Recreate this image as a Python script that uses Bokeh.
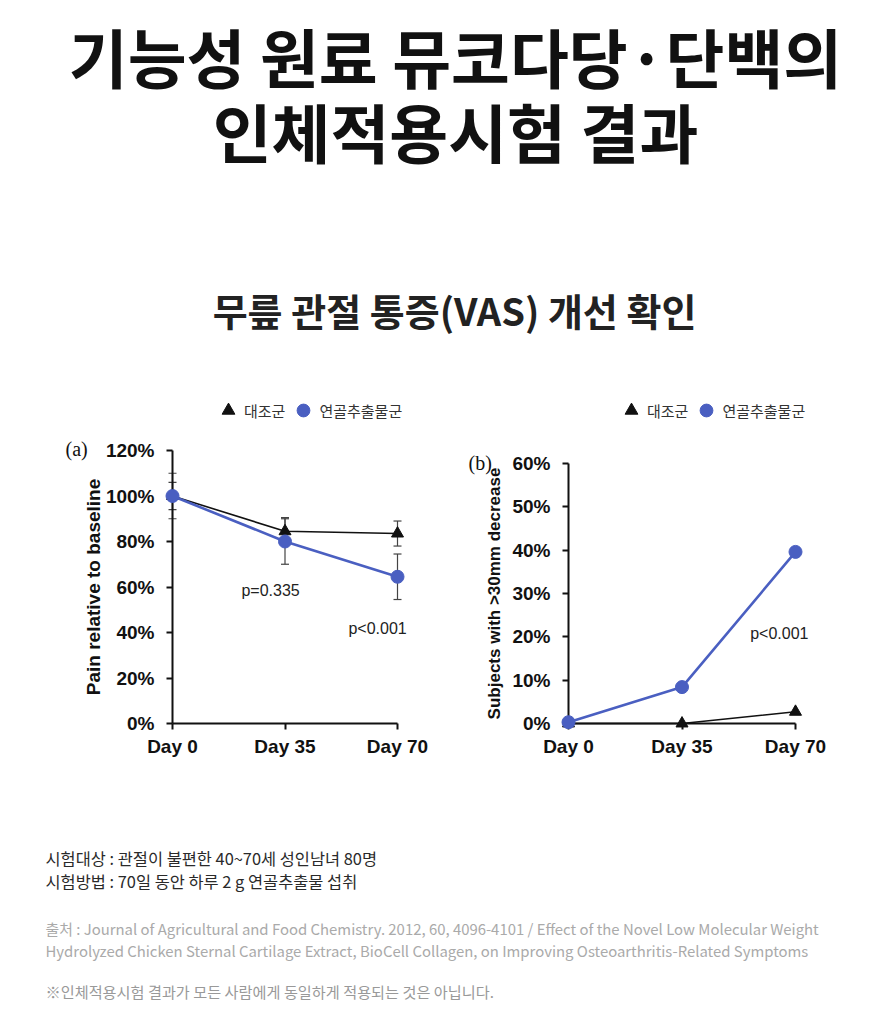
from bokeh.plotting import figure
from bokeh.models import (Range1d, FixedTicker, PrintfTickFormatter, Label, Legend,
                          LegendItem, ColumnDataSource, Whisker, TeeHead)
from bokeh.layouts import column, row
from bokeh.embed import file_html
from bokeh.resources import INLINE
from bokeh.core.properties import value

# ---------------- data ----------------
days = [0, 35, 70]
day_labels = ["Day 0", "Day 35", "Day 70"]
series_names = ["대조군", "연골추출물군"]

pain_control = [100, 84.5, 83.5]
pain_control_err = [10, 6, 5.5]
pain_extract = [100, 80, 64.5]
pain_extract_err = [6, 10, 10]
pain_ticks = [0, 20, 40, 60, 80, 100, 120]

resp_control = [0, 0, 2.7]
resp_extract = [0.3, 8.4, 39.6]
resp_ticks = [0, 10, 20, 30, 40, 50, 60]

title_lines = ["기능성 원료 뮤코다당·단백의", "인체적용시험 결과"]
subtitle = "무릎 관절 통증(VAS) 개선 확인"
notes = ["시험대상 : 관절이 불편한 40~70세 성인남녀 80명",
         "시험방법 : 70일 동안 하루 2 g 연골추출물 섭취"]
sources = ["출처 : Journal of Agricultural and Food Chemistry. 2012, 60, 4096-4101 / Effect of the Novel Low Molecular Weight",
           "Hydrolyzed Chicken Sternal Cartilage Extract, BioCell Collagen, on Improving Osteoarthritis-Related Symptoms"]
disclaimer = "※인체적용시험 결과가 모든 사람에게 동일하게 적용되는 것은 아닙니다."

BLUE = "#4A5FC1"
BLACK = "#111111"
KR = "Noto Sans CJK KR"
AR = "Liberation Sans"
CH_H = 410  # height of the chart row


def text_fig(w, h):
    p = figure(width=w, height=h, x_range=Range1d(0, w), y_range=Range1d(h, 0),
               output_backend="svg", toolbar_location=None,
               x_axis_location=None, y_axis_location=None,
               min_border=0, outline_line_color=None)
    p.grid.visible = False
    return p


# ---------------- header ----------------
head = text_fig(887, 380)
for txt, yy in zip(title_lines, [54, 129]):
    head.add_layout(Label(x=455, y=yy, text=txt, text_align="center", text_baseline="middle",
                          text_font=KR, text_font_style="bold", text_font_size="64px",
                          text_color=BLACK))
head.add_layout(Label(x=454, y=309, text=subtitle, text_align="center", text_baseline="middle",
                      text_font=KR, text_font_style="bold", text_font_size="38px",
                      text_color="#222222"))


# ---------------- charts ----------------
def chart(width, ax_l, ax_r, ax_top, ax_bot, ymax, yticks, ylabel, ctrl, ext,
          ctrl_err=None, ext_err=None, ylabel_standoff=0, ylabel_size="19px"):
    # ax_l/ax_r: pixel x of Day 0 / Day 70; ax_top/ax_bot: pixel y (from top) of ymax / 0
    ppx = (ax_r - ax_l) / 70.0
    ppy = (ax_bot - ax_top) / float(ymax)
    xr = Range1d(-ax_l / ppx, (width - ax_l) / ppx)
    yr = Range1d(-(CH_H - ax_bot) / ppy, ax_bot / ppy)
    p = figure(width=width, height=CH_H, x_range=xr, y_range=yr,
               output_backend="svg", toolbar_location=None,
               min_border=0, outline_line_color=None)
    p.grid.visible = False
    p.xaxis.fixed_location = 0
    p.yaxis.fixed_location = 0
    p.xaxis.bounds = (0, 70)
    p.yaxis.bounds = (0, ymax)
    p.xaxis.ticker = FixedTicker(ticks=days)
    p.xaxis.major_label_overrides = {d: l for d, l in zip(days, day_labels)}
    p.yaxis.ticker = FixedTicker(ticks=yticks)
    p.yaxis.formatter = PrintfTickFormatter(format="%d%%")
    for ax in (p.xaxis[0], p.yaxis[0]):
        ax.axis_line_width = 2
        ax.axis_line_color = BLACK
        ax.major_tick_line_width = 2
        ax.major_tick_line_color = BLACK
        ax.major_tick_out = 6
        ax.major_tick_in = 0
        ax.minor_tick_line_color = None
        ax.major_label_text_font = AR
        ax.major_label_text_font_style = "bold"
        ax.major_label_text_font_size = "19px"
        ax.major_label_text_color = BLACK
    p.xaxis.major_label_standoff = 6
    p.yaxis.major_label_standoff = 12
    p.yaxis.axis_label = ylabel
    p.yaxis.axis_label_text_font = AR
    p.yaxis.axis_label_text_font_style = "bold"
    p.yaxis.axis_label_text_font_size = ylabel_size
    p.yaxis.axis_label_text_color = BLACK
    p.yaxis.axis_label_standoff = ylabel_standoff

    if ctrl_err is not None:
        for vals, errs in ((ctrl, ctrl_err), (ext, ext_err)):
            src = ColumnDataSource(dict(x=days,
                                        upper=[v + e for v, e in zip(vals, errs)],
                                        lower=[v - e for v, e in zip(vals, errs)]))
            p.add_layout(Whisker(base="x", upper="upper", lower="lower", source=src,
                                 line_color="#444444", line_width=1.2,
                                 upper_head=TeeHead(size=8, line_color="#444444", line_width=1.2),
                                 lower_head=TeeHead(size=8, line_color="#444444", line_width=1.2)))

    p.line(days, ctrl, line_color=BLACK, line_width=1.6, level="overlay")
    r_ctrl = p.scatter(days, ctrl, marker="triangle", size=12, color=BLACK, level="overlay")
    p.line(days, ext, line_color=BLUE, line_width=2.6, level="overlay")
    r_ext = p.scatter(days, ext, marker="circle", size=13, color=BLUE, level="overlay")
    return p, r_ctrl, r_ext


left, lc, le = chart(443, 172, 397, 70, 343, 120, pain_ticks, "Pain relative to baseline",
                     pain_control, pain_extract, pain_control_err, pain_extract_err,
                     ylabel_standoff=-1, ylabel_size="19px")
right, rc, rex = chart(444, 125, 352, 83, 343, 60, resp_ticks, "Subjects with >30mm decrease",
                       resp_control, resp_extract, ylabel_standoff=5, ylabel_size="17px")

for p, rc_, re_, lx, tag, tx, ty in ((left, lc, le, 212, "(a)", 65, 342),
                                     (right, rc, rex, 172, "(b)", 25, 328)):
    leg = Legend(items=[LegendItem(label=value(series_names[0]), renderers=[rc_]),
                        LegendItem(label=value(series_names[1]), renderers=[re_])],
                 orientation="horizontal", location=(lx, 364),
                 glyph_width=32, glyph_height=32, label_standoff=0, spacing=2,
                 padding=0, margin=0, border_line_color=None, background_fill_alpha=0,
                 label_text_font=KR, label_text_font_size="15px", label_text_color="#333333")
    p.add_layout(leg)
    p.add_layout(Label(x=tx, y=ty, x_units="screen", y_units="screen", text=tag,
                       text_baseline="middle", text_font="Liberation Serif",
                       text_font_size="20px", text_color=BLACK))

left.add_layout(Label(x=30.5, y=58.5, text="p=0.335", text_align="center", text_baseline="middle",
                      text_font=AR, text_font_size="16px", text_color="#222222"))
left.add_layout(Label(x=63.8, y=41.8, text="p<0.001", text_align="center", text_baseline="middle",
                      text_font=AR, text_font_size="16px", text_color="#222222"))
right.add_layout(Label(x=65, y=20.8, text="p<0.001", text_align="center", text_baseline="middle",
                       text_font=AR, text_font_size="16px", text_color="#222222"))

# ---------------- footer ----------------
foot = text_fig(887, 236)
for txt, yy in zip(notes, [67, 90]):
    foot.add_layout(Label(x=45, y=yy, text=txt, text_baseline="middle", text_font=KR,
                          text_font_size="16.4px", text_color="#2A2A2A"))
for txt, yy in zip(sources, [138, 160]):
    foot.add_layout(Label(x=45, y=yy, text=txt, text_baseline="middle", text_font=KR,
                          text_font_size="14.9px", text_color="#AAAAAA"))
foot.add_layout(Label(x=45, y=200, text=disclaimer, text_baseline="middle", text_font=KR,
                      text_font_size="15.2px", text_color="#999999"))

layout = column(head, row(left, right), foot)
open("out.html", "w").write(file_html(layout, INLINE))
